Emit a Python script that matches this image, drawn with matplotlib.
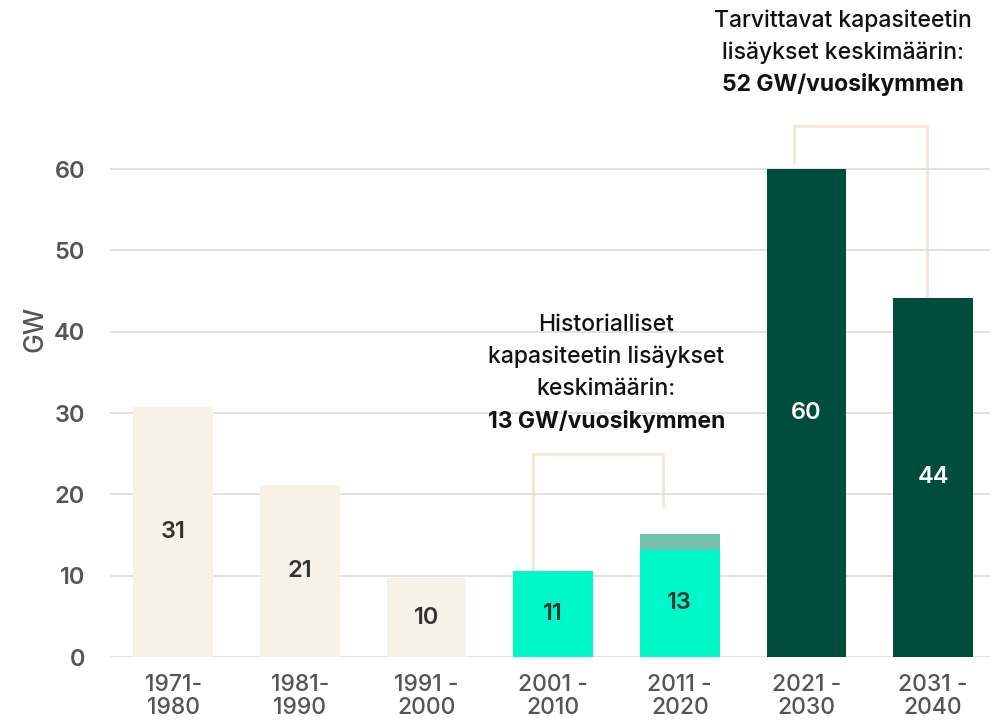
import matplotlib
matplotlib.use("Agg")
import matplotlib.pyplot as plt

plt.rcParams['font.family'] = ['Inter', 'DejaVu Sans']

periods = ["1971-\n1980", "1981-\n1990", "1991 -\n2000", "2001 -\n2010",
           "2011 -\n2020", "2021 -\n2030", "2031 -\n2040"]
values = [30.7, 21.2, 9.7, 10.6, 13.2, 60.0, 44.2]
extra = [0, 0, 0, 0, 1.9, 0, 0]
colors = ["#F8F1E7", "#F8F1E7", "#F8F1E7", "#00F8C8", "#00F8C8", "#004D3E", "#004D3E"]
label_colors = ["#333333"] * 5 + ["#FFFFFF"] * 2
extra_color = "#72C2AE"
yticks = [0, 10, 20, 30, 40, 50, 60]
hist_text = ["Historialliset", "kapasiteetin lisäykset", "keskimäärin:"]
hist_bold = "13 GW/vuosikymmen"
need_text = ["Tarvittavat kapasiteetin", "lisäykset keskimäärin:"]
need_bold = "52 GW/vuosikymmen"

W, H = 995, 726
fig = plt.figure(figsize=(W / 100, H / 100), dpi=100)
ax = fig.add_axes([110 / W, 1 - 657 / H, (990 - 110) / W, 657 / H])

x = list(range(len(values)))
ax.bar(x, values, width=0.63, color=colors, zorder=2)
ax.bar(x, extra, bottom=values, width=0.63, color=extra_color, zorder=2)
for i, v in enumerate(values):
    ax.text(i, v / 2, f"{v:.0f}", ha="center", va="center", fontsize=17,
            color=label_colors[i], zorder=3, fontweight=600)

ax.set_xlim(-0.5, 6.45)
ax.set_ylim(0, 80.8)
ax.set_yticks(yticks)
ax.set_yticklabels([str(t) for t in yticks], fontsize=17, color="#555555", fontweight=600)
ax.set_xticks(x)
ax.set_xticklabels(periods, fontsize=16.5, color="#555555", linespacing=1.05, fontweight=500)
ax.tick_params(length=0, axis="y", pad=18)
ax.tick_params(length=0, axis="x", pad=12)
ax.grid(axis="y", color="#DDDDDD", linewidth=1.2, zorder=0)
for s in ax.spines.values():
    s.set_visible(False)
ax.set_ylabel("GW", fontsize=19, color="#555555", labelpad=4, fontweight=500)

bc = "#F3E8D6"
lw = 2.2
# Historical bracket
ax.plot([3 - 0.16, 3 - 0.16, 4 - 0.13, 4 - 0.13],
        [values[3] - 1.4, 25.0, 25.0, values[4] + extra[4] + 3.3],
        color=bc, lw=lw, zorder=1, solid_capstyle="butt")
# Required bracket
ax.plot([5 - 0.1, 5 - 0.1, 6 - 0.05, 6 - 0.05],
        [values[5] + 0.6, 65.3, 65.3, values[6]],
        color=bc, lw=lw, zorder=1, solid_capstyle="butt", clip_on=False)

hx = 3.42
for k, t in enumerate(hist_text):
    ax.text(hx, 40.8 - k * 3.93, t, ha="center", va="center", fontsize=16.5,
            color="#111111", fontweight=500)
ax.text(hx, 40.8 - 3 * 3.93, hist_bold, ha="center", va="center", fontsize=16.5,
        color="#111111", fontweight="bold")

nx = 5.29
for k, t in enumerate(need_text):
    ax.text(nx, 78.3 - k * 3.93, t, ha="center", va="center", fontsize=16.5,
            color="#111111", fontweight=500)
ax.text(nx, 78.3 - 2 * 3.93, need_bold, ha="center", va="center", fontsize=16.5,
        color="#111111", fontweight="bold")

fig.savefig("out.png", dpi=100)
